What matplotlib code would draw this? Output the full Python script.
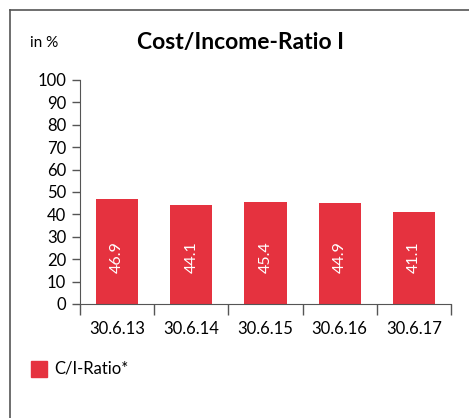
import matplotlib
matplotlib.use("Agg")
import matplotlib.pyplot as plt
from matplotlib.patches import Rectangle
from matplotlib.lines import Line2D

# data
dates = ["30.6.13", "30.6.14", "30.6.15", "30.6.16", "30.6.17"]
ratio = [46.9, 44.1, 45.4, 44.9, 41.1]
yticks = [0, 10, 20, 30, 40, 50, 60, 70, 80, 90, 100]

RED = "#e5323f"
plt.rcParams['font.family'] = ['Lato', 'DejaVu Sans']

W, H = 469, 418
fig = plt.figure(figsize=(W / 100, H / 100), dpi=100)

# frame around the chart (cut by the right and bottom edges)
fig.add_artist(Line2D([9.5 / W, 9.5 / W], [0, 1 - 9.5 / H], color="#555555", lw=1.2))
fig.add_artist(Line2D([9.5 / W, 1], [1 - 9.5 / H, 1 - 9.5 / H], color="#555555", lw=1.2))

# axes: x 80..451 px, y 80..304 px (top-based)
ax = fig.add_axes([80 / W, 1 - 304 / H, (451 - 80) / W, (304 - 80) / H])
x = range(len(dates))
ax.bar(x, ratio, width=0.57, color=RED)
for i, v in enumerate(ratio):
    ax.text(i, 21, f"{v:.1f}", rotation=90, color="white", ha="center",
            va="center", fontsize=11.5)

ax.set_ylim(0, 100)
ax.set_xlim(-0.5, len(dates) - 0.5)
ax.set_yticks(yticks)
ax.tick_params(axis="y", length=6, width=1, labelsize=12, pad=4, color="#555555")
ax.set_xticks([i - 0.5 for i in range(len(dates) + 1)], minor=False)
ax.set_xticklabels([])
ax.set_xticks(list(x), minor=True)
ax.set_xticklabels(dates, minor=True)
ax.tick_params(axis="x", which="major", length=8, width=1, color="#555555")
ax.tick_params(axis="x", which="minor", length=0, labelsize=12, pad=12)
for s in ["top", "right"]:
    ax.spines[s].set_visible(False)
ax.spines["left"].set_color("#555555")
ax.spines["bottom"].set_color("#555555")

fig.text(30 / W, 1 - 43 / H, "in %", fontsize=11, va="center", ha="left")
fig.text(240 / W, 1 - 43 / H, "Cost/Income-Ratio I", fontsize=16.5, fontweight="bold",
         va="center", ha="center")

# legend
fig.add_artist(Rectangle((31 / W, 1 - 377 / H), 16 / W, 16 / H, color=RED,
                         transform=fig.transFigure))
fig.text(54 / W, 1 - 369 / H, "C/I-Ratio*", fontsize=12, va="center", ha="left")

fig.savefig("out.png", dpi=100)
